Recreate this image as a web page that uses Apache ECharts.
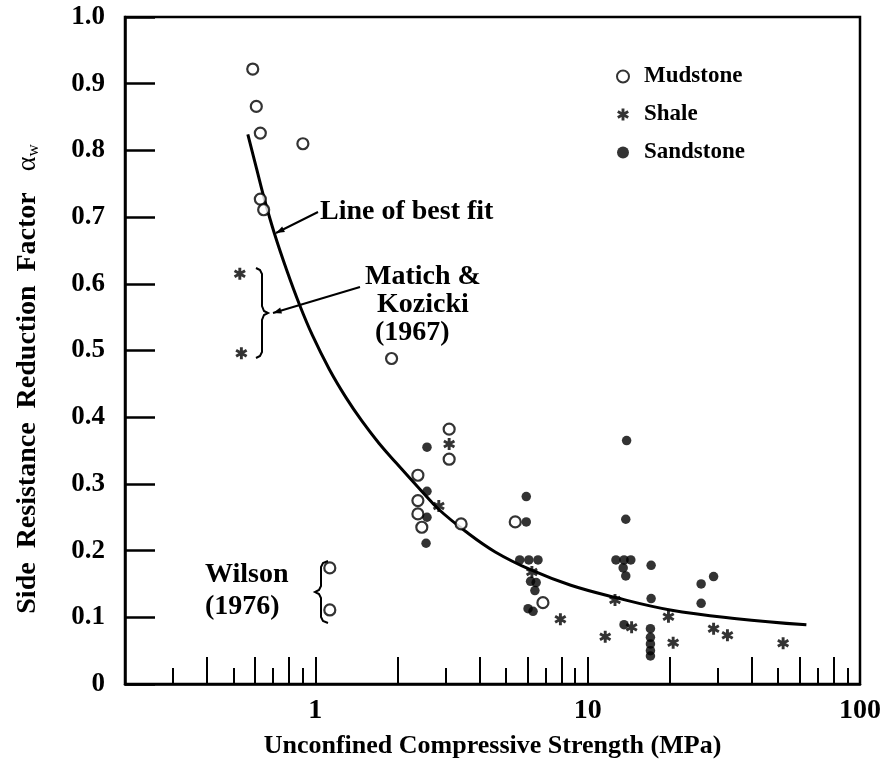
<!DOCTYPE html>
<html>
<head>
<meta charset="utf-8">
<script src="https://cdn.jsdelivr.net/npm/echarts@6/dist/echarts.min.js"></script>
<style>
html,body{margin:0;padding:0;background:#fff;}
#c{width:884px;height:773px;}
</style>
</head>
<body>
<div id="c"></div>
<script>
// ---- data (x = UCS in MPa, y = side resistance reduction factor) ----
const mudstone = [
  [0.589,0.922],[0.607,0.866],[0.628,0.826],[0.90,0.81],[0.628,0.727],[0.646,0.711],
  [1.905,0.488],[3.10,0.382],[3.10,0.337],[2.38,0.313],[2.38,0.275],[2.38,0.255],
  [2.46,0.235],[3.43,0.240],[5.42,0.243],[6.85,0.122],[1.13,0.174],[1.13,0.111]
];
const shale = [
  [0.528,0.615],[0.535,0.496],[3.10,0.360],[2.84,0.267],[6.24,0.168],[7.94,0.097],
  [11.6,0.071],[12.6,0.126],[14.5,0.085],[19.8,0.101],[20.6,0.062],[29.0,0.083],
  [32.6,0.073],[52.2,0.061]
];
const sandstone = [
  [2.57,0.355],[2.57,0.289],[2.57,0.250],[2.55,0.211],[5.95,0.281],[5.95,0.243],
  [5.63,0.186],[6.08,0.186],[6.57,0.186],[6.17,0.154],[6.47,0.152],[6.40,0.140],
  [6.04,0.113],[6.30,0.109],[13.9,0.365],[13.8,0.247],[12.7,0.186],[13.6,0.186],
  [14.4,0.186],[13.5,0.174],[13.8,0.162],[13.6,0.089],[17.1,0.178],[17.1,0.128],
  [17.0,0.083],[17.0,0.070],[17.0,0.060],[17.0,0.050],[17.0,0.042],
  [26.1,0.150],[29.0,0.161],[26.1,0.121]
];
const bestFitX = [0.565,0.609,0.651,0.708,0.784,0.874,0.975,1.125,1.298,1.484,1.712,1.975,2.458,2.836,3.557,4.577,6.194,8.670,12.55,20.09,35.27,63.55];
const bestFitY = [0.824,0.772,0.726,0.675,0.621,0.569,0.523,0.472,0.429,0.394,0.361,0.332,0.289,0.262,0.229,0.198,0.171,0.148,0.130,0.111,0.098,0.0887];
const xLongTicks = [0.4,0.6,0.8,1,2,4,6,8,10,20,40,60,80];
const xShortTicks = [0.3,0.5,0.7,0.9,3,5,7,9,30,50,70,90];
const xLabelValues = [1,10,100];
const legendNames = ['Mudstone','Shale','Sandstone'];

const FONT = '"Liberation Serif", "DejaVu Serif", serif';
const STAR = 'path://M-1.2,-5L1.2,-5L1.2,5L-1.2,5Z M3.73,-3.539L4.93,-1.461L-3.73,3.539L-4.93,1.461Z M-4.93,-1.461L-3.73,-3.539L4.93,1.461L3.73,3.539Z';

const chart = echarts.init(document.getElementById('c'), null, {renderer:'canvas'});

function arrow(x1,y1,x2,y2){
  const a = Math.atan2(y2-y1, x2-x1), L = 9, w = 0.35;
  return [
    {type:'line', shape:{x1:x1,y1:y1,x2:x2,y2:y2}, style:{stroke:'#000', lineWidth:2}},
    {type:'polygon', shape:{points:[[x2,y2],[x2-L*Math.cos(a-w),y2-L*Math.sin(a-w)],[x2-L*Math.cos(a+w),y2-L*Math.sin(a+w)]]}, style:{fill:'#000'}}
  ];
}
function txt(x,y,s,align){
  return {type:'text', x:x, y:y, style:{text:s, font:'bold 28px '+FONT, fill:'#000', align:align||'left', verticalAlign:'middle'}};
}

const option = {
  animation:false,
  backgroundColor:'#fff',
  grid:{left:125, right:22, top:17, bottom:89, show:true, borderColor:'#000', borderWidth:2.5},
  legend:{
    orient:'vertical', left:616, top:65, itemGap:15, itemWidth:12, itemHeight:12, padding:0,
    selectedMode:false,
    textStyle:{fontFamily:FONT, fontWeight:'bold', fontSize:23, color:'#000', padding:[0,0,0,10]},
    data:[
      {name:'Mudstone', icon:'circle', itemStyle:{color:'#fff', borderColor:'#000', borderWidth:2}},
      {name:'Shale', icon:STAR, itemStyle:{color:'#000'}},
      {name:'Sandstone', icon:'circle', itemStyle:{color:'#000'}}
    ]
  },
  xAxis:[{
    type:'log', logBase:10, min:0.2, max:100, position:'bottom',
    axisLine:{lineStyle:{color:'#000', width:2.5}},
    axisTick:{show:true, inside:true, length:27, customValues:xLongTicks, lineStyle:{color:'#000', width:2}},
    axisLabel:{customValues:xLabelValues, margin:13, color:'#000', fontFamily:FONT, fontWeight:'bold', fontSize:28,
      formatter:function(v){return String(Math.round(v));}},
    splitLine:{show:false},
    name:'Unconfined Compressive Strength (MPa)', nameLocation:'middle', nameGap:49,
    nameTextStyle:{fontFamily:FONT, fontWeight:'bold', fontSize:26, color:'#000'}
  },{
    type:'log', logBase:10, min:0.2, max:100, position:'bottom', gridIndex:0,
    axisLine:{show:false},
    axisTick:{show:true, inside:true, length:16, customValues:xShortTicks, lineStyle:{color:'#000', width:2}},
    axisLabel:{show:false}, splitLine:{show:false}
  }],
  yAxis:{
    type:'value', min:0, max:1, interval:0.1,
    axisLine:{show:true, lineStyle:{color:'#000', width:2.5}},
    axisTick:{show:true, inside:true, length:30, lineStyle:{color:'#000', width:2.5}},
    axisLabel:{margin:20, color:'#000', fontFamily:FONT, fontWeight:'bold', fontSize:27,
      formatter:function(v){ if(v===0) return '0'; return v.toFixed(1); }},
    splitLine:{show:false}
  },
  series:[
    {name:'Line of best fit', type:'line', xAxisIndex:0, data:bestFitX.map((x,i)=>[x,bestFitY[i]]),
      smooth:0.4, showSymbol:false, lineStyle:{color:'#000', width:3}, z:1},
    {name:'Mudstone', type:'scatter', xAxisIndex:0, data:mudstone, symbol:'circle', symbolSize:11,
      itemStyle:{color:'#fff', borderColor:'#000', borderWidth:2.2}, z:3},
    {name:'Shale', type:'scatter', xAxisIndex:0, data:shale, symbol:STAR, symbolSize:12,
      itemStyle:{color:'#000'}, z:3},
    {name:'Sandstone', type:'scatter', xAxisIndex:0, data:sandstone, symbol:'circle', symbolSize:9.5,
      itemStyle:{color:'#000'}, z:3}
  ],
  graphic:[
    {type:'text', x:28, y:379, rotation:Math.PI/2,
      style:{text:'Side  Resistance  Reduction  Factor   {a|α}{s|w}', font:'bold 28px '+FONT, fill:'#000', align:'center', verticalAlign:'middle',
        rich:{a:{font:'28px '+FONT, fill:'#000'}, s:{font:'17px '+FONT, fill:'#000', verticalAlign:'bottom', padding:[9,0,0,0]}}}},
    txt(320,212,'Line of best fit'),
    ...arrow(318,212,276,233),
    txt(365,277,'Matich &'),
    txt(377,305,'Kozicki'),
    txt(375,333,'(1967)'),
    ...arrow(360,287,273,313),
    {type:'polyline', shape:{points:[[256,268],[260,270],[262,274],[262,306],[264,311],[268,313],[264,315],[262,320],[262,352],[260,356],[256,358]]}, style:{stroke:'#000', lineWidth:2, fill:null}},
    txt(205,575,'Wilson'),
    txt(205,607,'(1976)'),
    {type:'polyline', shape:{points:[[328,561],[323,563],[321,567],[321,586],[319,590],[315,592],[319,594],[321,598],[321,617],[323,621],[328,623]]}, style:{stroke:'#000', lineWidth:2, fill:null}}
  ]
};
chart.setOption(option);
</script>
</body>
</html>
